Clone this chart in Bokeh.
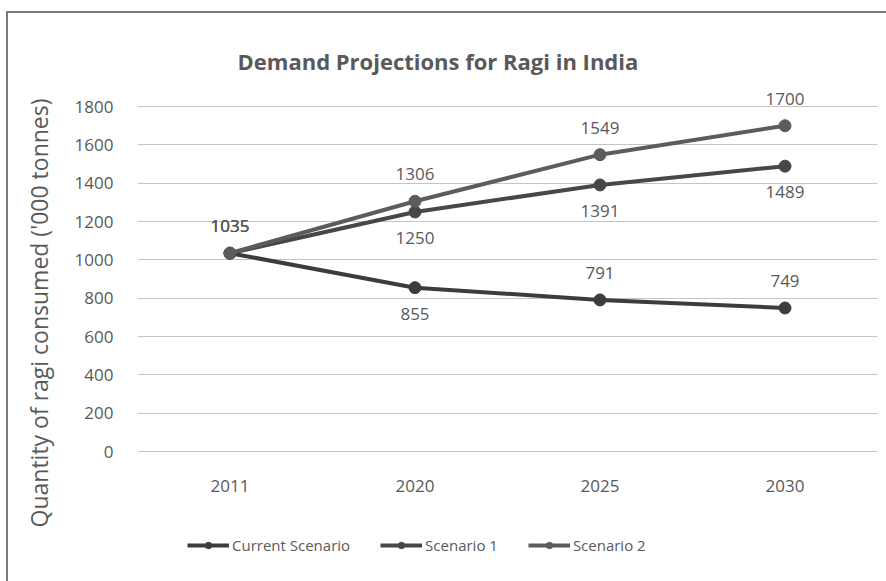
from bokeh.plotting import figure
from bokeh.layouts import column
from bokeh.models import (ColumnDataSource, FactorRange, Range1d, FixedTicker,
                          Legend, LegendItem, Title)
from bokeh.core.properties import value
from bokeh.embed import file_html
from bokeh.resources import INLINE

# ---- data ----
years = ["2011", "2020", "2025", "2030"]
current_scenario = [1035, 855, 791, 749]
scenario_1 = [1035, 1250, 1391, 1489]
scenario_2 = [1035, 1306, 1549, 1700]
y_ticks = [0, 200, 400, 600, 800, 1000, 1200, 1400, 1600, 1800]

series_names = ["Current Scenario", "Scenario 1", "Scenario 2"]
series_values = [current_scenario, scenario_1, scenario_2]

# ---- styles ----
series_colors = ["#3c3c3c", "#474747", "#5c5c5c"]
label_side = [
    ["above", "below", "above", "above"],
    ["above", "below", "below", "below"],
    ["above", "above", "above", "above"],
]
side_offset = {"above": -27, "below": 26}
FONT = "Open Sans"
TEXT_COLOR = "#595959"

p = figure(width=878, height=520, output_backend="svg", toolbar_location=None,
           x_range=FactorRange(*years), y_range=Range1d(-99, 1936),
           min_border_left=129, min_border_right=9, min_border_top=67,
           min_border_bottom=63, background_fill_color="white",
           border_fill_color="white", outline_line_color=None)

p.title.text = "Demand Projections for Ragi in India"
p.title.align = "left"
p.title.offset = 100
p.title.text_font = FONT
p.title.text_font_size = "22px"
p.title.text_font_style = "bold"
p.title.text_color = TEXT_COLOR

p.yaxis.ticker = FixedTicker(ticks=y_ticks)
for ax in (p.xaxis, p.yaxis):
    ax.axis_line_color = None
    ax.major_tick_line_color = None
    ax.minor_tick_line_color = None
    ax.major_tick_in = 0
    ax.major_tick_out = 0
    ax.minor_tick_out = 0
    ax.major_label_text_font = FONT
    ax.major_label_text_font_size = "17px"
    ax.major_label_text_color = TEXT_COLOR
p.yaxis.major_label_standoff = 24
p.xaxis.major_label_standoff = 9
p.xgrid.grid_line_color = None
p.ygrid.grid_line_color = "#c4c4c4"
p.ygrid.grid_line_width = 1

# legend strip underneath the chart
lg = figure(width=878, height=48, output_backend="svg", toolbar_location=None,
            x_range=FactorRange(*years), y_range=Range1d(5000, 6000),
            x_axis_location=None, y_axis_location=None,
            min_border_left=0, min_border_right=0, min_border_top=0,
            min_border_bottom=0, background_fill_color="white",
            border_fill_color="white", outline_line_color=None)
lg.xgrid.grid_line_color = None
lg.ygrid.grid_line_color = None

items = []
for name, vals, color, sides in zip(series_names, series_values, series_colors, label_side):
    src = ColumnDataSource(dict(x=years, y=vals, t=[str(v) for v in vals],
                                off=[side_offset[s] for s in sides]))
    p.line("x", "y", source=src, line_color=color, line_width=4)
    p.scatter("x", "y", source=src, size=12, fill_color=color, line_color=color)
    p.text("x", "y", text="t", source=src, y_offset="off", text_align="center",
           text_baseline="middle", text_font=value(FONT), text_font_size="17px",
           text_color=TEXT_COLOR)
    # legend samples (same series, drawn outside the strip's visible range)
    l1 = lg.line("x", "y", source=src, line_color=color, line_width=4)
    l2 = lg.scatter("x", "y", source=src, size=12, fill_color=color, line_color=color)
    items.append(LegendItem(label=name, renderers=[l1, l2]))

ylab = Title(text="Quantity of ragi consumed ('000 tonnes)", align="left",
             vertical_align="top", offset=-57, standoff=29, text_font=FONT,
             text_font_size="23px", text_font_style="normal", text_color=TEXT_COLOR)
p.add_layout(ylab, "left")

legend = Legend(items=items, orientation="horizontal", location=(50, 26),
                glyph_width=42, glyph_height=16, label_standoff=3, spacing=30,
                padding=0, margin=0, border_line_color=None,
                background_fill_alpha=0, label_text_font=FONT,
                label_text_font_size="15px", label_text_color=TEXT_COLOR)
lg.add_layout(legend, "center")

layout = column(p, lg, spacing=0)
layout.margin = (11, 0, 0, 6)
layout.styles = {"border-top": "2px solid #7a7a7a", "border-left": "2px solid #7a7a7a",
                 "background-color": "white"}

open("out.html", "w").write(file_html(layout, INLINE))
